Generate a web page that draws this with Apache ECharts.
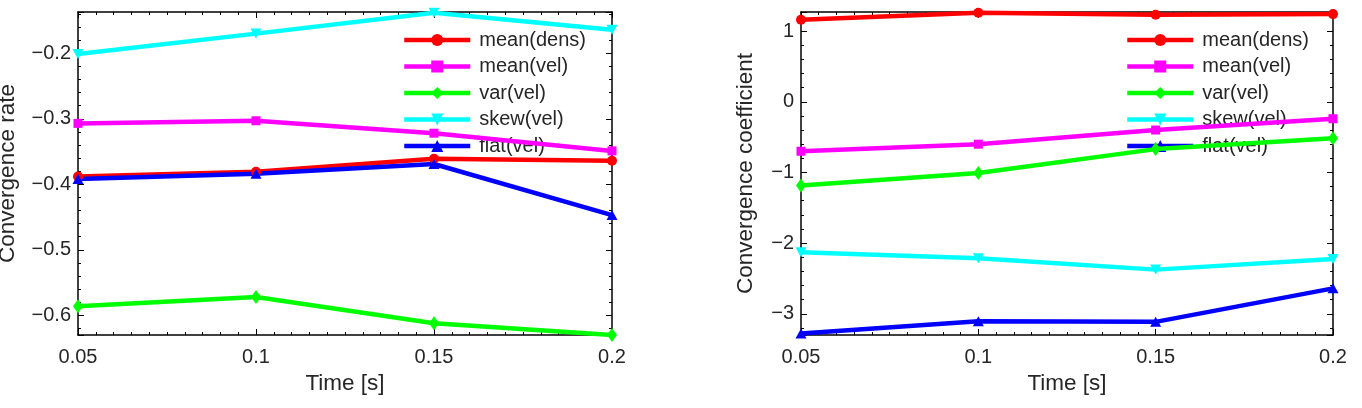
<!DOCTYPE html>
<html>
<head>
<meta charset="utf-8">
<script src="https://cdn.jsdelivr.net/npm/echarts@6/dist/echarts.min.js"></script>
<style>
  html, body { margin: 0; padding: 0; background: #fff; }
  #chart { width: 1362px; height: 408px; }
</style>
</head>
<body>
<div id="chart"></div>
<script>
// data
const times = [0.05, 0.1, 0.15, 0.2];
const names = ['mean(dens)', 'mean(vel)', 'var(vel)', 'skew(vel)', 'flat(vel)'];
const colors = ['#ff0000', '#ff00ff', '#00ff00', '#00ffff', '#0000ff'];

// left: convergence rate
const rateMeanDens = [-0.388, -0.381, -0.361, -0.364];
const rateMeanVel = [-0.307, -0.303, -0.322, -0.349];
const rateVarVel = [-0.586, -0.572, -0.612, -0.630];
const rateSkewVel = [-0.201, -0.170, -0.138, -0.164];
const rateFlatVel = [-0.392, -0.384, -0.369, -0.447];

// right: convergence coefficient
const coefMeanDens = [1.16, 1.26, 1.23, 1.24];
const coefMeanVel = [-0.70, -0.60, -0.40, -0.24];
const coefVarVel = [-1.185, -1.007, -0.67, -0.515];
const coefSkewVel = [-2.13, -2.215, -2.375, -2.225];
const coefFlatVel = [-3.28, -3.105, -3.114, -2.64];

const rateSeries = [rateMeanDens, rateMeanVel, rateVarVel, rateSkewVel, rateFlatVel];
const coefSeries = [coefMeanDens, coefMeanVel, coefVarVel, coefSkewVel, coefFlatVel];

const font = "'Liberation Sans', Arial, Helvetica, sans-serif";
const textColor = '#262626';

const symbols = [
    'circle',
    'rect',
    'diamond',
    'path://M0,0 L10,0 L5,9 Z',
    'path://M5,0 L10,9 L0,9 Z'
];
const symbolSizes = [10, 9, [10, 14], [11, 10], [11, 10]];

const minus = v => String(v).replace('-', '\u2212');

const chart = echarts.init(document.getElementById('chart'));

// x axes, bottom with labels and top as box edge
const makeX = (gridIndex, top) => ({
    type: 'value',
    gridIndex,
    position: top ? 'top' : 'bottom',
    min: 0.05,
    max: 0.2,
    interval: 0.05,
    name: top ? '' : 'Time [s]',
    nameLocation: 'middle',
    nameGap: 36,
    nameTextStyle: { fontFamily: font, fontSize: 22.5, color: textColor },
    axisLine: { show: true, onZero: false, lineStyle: { color: '#000', width: 1.5 } },
    axisTick: { show: true, inside: true, length: 6, lineStyle: { color: '#000' } },
    minorTick: { show: true, splitNumber: 10, length: 3, lineStyle: { color: '#000' } },
    axisLabel: {
        show: !top, margin: 12, fontFamily: font, fontSize: 20, color: textColor,
        formatter: v => String(+v.toFixed(2))
    },
    splitLine: { show: false }
});

const makeY = (gridIndex, right, min, max, name, nameGap, digits) => ({
    type: 'value',
    gridIndex,
    position: right ? 'right' : 'left',
    min,
    max,
    splitNumber: 5,
    name: right ? '' : name,
    nameLocation: 'middle',
    nameGap,
    nameTextStyle: { fontFamily: font, fontSize: 22.5, color: textColor },
    axisLine: { show: true, onZero: false, lineStyle: { color: '#000', width: 1.5 } },
    axisTick: { show: true, inside: true, length: 6, lineStyle: { color: '#000' } },
    minorTick: { show: true, splitNumber: 5, length: 3, lineStyle: { color: '#000' } },
    axisLabel: {
        show: !right, margin: 7, fontFamily: font, fontSize: 20, color: textColor,
        showMinLabel: false, showMaxLabel: false,
        formatter: v => minus(+v.toFixed(digits))
    },
    splitLine: { show: false }
});

const buildSeries = (values, axisIndex) => values.map((vals, i) => ({
    name: names[i],
    type: 'line',
    xAxisIndex: axisIndex,
    yAxisIndex: axisIndex,
    data: vals.map((v, k) => [times[k], v]),
    symbol: symbols[i],
    symbolSize: symbolSizes[i],
    showAllSymbol: true,
    clip: false,
    z: 3,
    lineStyle: { color: colors[i], width: 4.5 },
    itemStyle: { color: colors[i], borderWidth: 0 }
}));

const makeLegend = left => ({
    orient: 'vertical',
    left,
    top: 30,
    padding: 0,
    itemGap: 6.5,
    itemWidth: 66,
    itemHeight: 15,
    z: 1,
    selectedMode: false,
    data: names,
    lineStyle: { width: 4.5 },
    textStyle: { fontFamily: font, fontSize: 20, color: textColor, padding: [0, 0, 0, 4] }
});

const option = {
    animation: false,
    backgroundColor: '#fff',
    grid: [
        { left: 78, top: 12, width: 534, height: 323, outerBoundsMode: 'none' },
        { left: 801, top: 12, width: 532, height: 323, outerBoundsMode: 'none' }
    ],
    xAxis: [makeX(0, false), makeX(0, true), makeX(1, false), makeX(1, true)],
    yAxis: [
        makeY(0, false, -0.63, -0.137, 'Convergence rate', 59, 1),
        makeY(0, true, -0.63, -0.137, '', 59, 1),
        makeY(1, false, -3.3, 1.27, 'Convergence coefficient', 44, 0),
        makeY(1, true, -3.3, 1.27, '', 44, 0)
    ],
    legend: [makeLegend(402), makeLegend(1125)],
    series: [
        ...buildSeries(rateSeries, 0),
        ...buildSeries(coefSeries, 2)
    ]
};

chart.setOption(option);
window.addEventListener('resize', () => chart.resize());
</script>
</body>
</html>
